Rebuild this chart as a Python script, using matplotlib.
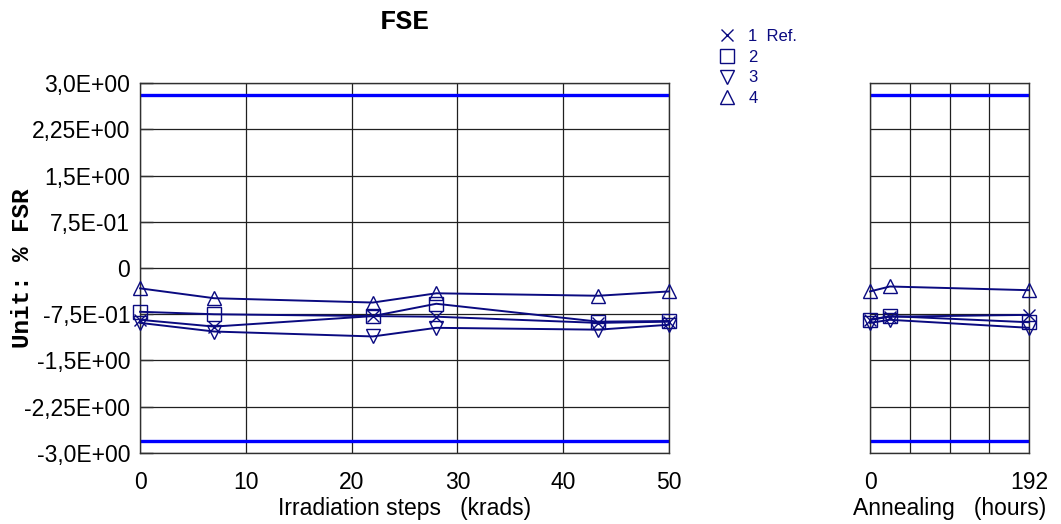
import matplotlib.pyplot as plt
from matplotlib.lines import Line2D

plt.rcParams["font.family"] = ["Liberation Sans", "DejaVu Sans"]

# irradiation steps (krads) and annealing times (hours)
dose = [0, 7, 22, 28, 43.3, 50]
hours = [0, 24, 192]

# FSE in % FSR, one list per device
irr_1 = [-0.84, -0.95, -0.78, -0.79, -0.89, -0.87]
irr_2 = [-0.71, -0.75, -0.78, -0.58, -0.87, -0.86]
irr_3 = [-0.89, -1.03, -1.11, -0.97, -1.00, -0.92]
irr_4 = [-0.33, -0.49, -0.56, -0.41, -0.45, -0.38]

ann_1 = [-0.84, -0.79, -0.76]
ann_2 = [-0.84, -0.78, -0.88]
ann_3 = [-0.89, -0.84, -0.97]
ann_4 = [-0.38, -0.30, -0.36]

limit = 2.8
labels = ["1  Ref.", "2", "3", "4"]
markers = ["x", "s", "v", "^"]

yticks = [3.0, 2.25, 1.5, 0.75, 0, -0.75, -1.5, -2.25, -3.0]
yticklabels = ["3,0E+00", "2,25E+00", "1,5E+00", "7,5E-01", "0",
               "-7,5E-01", "-1,5E+00", "-2,25E+00", "-3,0E+00"]

navy = "#0a0a80"
fig = plt.figure(figsize=(10.61, 5.24), dpi=100)
ax1 = fig.add_axes([0.1320, 0.1355, 0.4986, 0.7061])
ax2 = fig.add_axes([0.8200, 0.1355, 0.1499, 0.7061])

irr = [irr_1, irr_2, irr_3, irr_4]
ann = [ann_1, ann_2, ann_3, ann_4]

for ax, xs, series, xlim, xt in [
    (ax1, dose, irr, (0, 50), [0, 10, 20, 30, 40, 50]),
    (ax2, hours, ann, (0, 192), [0, 48, 96, 144, 192]),
]:
    for ys, m in zip(series, markers):
        ax.plot(xs, ys, color=navy, lw=1.4, marker=m, ms=10 if m != "x" else 9,
                mfc="none", mec=navy, mew=1.0, clip_on=False, zorder=3)
    ax.axhline(limit, color="#0000ff", lw=2.4, zorder=2)
    ax.axhline(-limit, color="#0000ff", lw=2.4, zorder=2)
    ax.set_xlim(*xlim)
    ax.set_ylim(-3, 3)
    ax.set_xticks(xt)
    ax.set_yticks(yticks)
    ax.grid(True, color="#202020", lw=0.9)
    ax.set_axisbelow(True)
    ax.tick_params(axis="both", direction="in", length=0, labelsize=16.5)
    ax.tick_params(axis="x", pad=13)
    for s in ax.spines.values():
        s.set_color("#303030")
        s.set_linewidth(1.0)

ax1.set_yticklabels(yticklabels)
ax1.tick_params(axis="y", length=9, width=1, color="#303030", pad=7)
ax2.set_yticklabels([])
ax2.set_xticklabels(["0", "", "", "", "192"])

ax1.set_xlabel("Irradiation steps   (krads)", fontsize=16.5, labelpad=2)
ax2.set_xlabel("Annealing   (hours)", fontsize=16.5, labelpad=2)
ax1.set_ylabel("Unit: % FSR", fontsize=17.5, fontweight="bold",
               family="Liberation Mono")
ax1.yaxis.set_label_coords(-0.200, 0.5)
fig.text(405 / 1061, 1 - 22 / 524, "FSE", fontsize=20, fontweight="bold",
         family="Liberation Mono", ha="center", va="center")

handles = [Line2D([], [], ls="none", marker=m, color=navy, mfc="none",
                  ms=10 if m != "x" else 9, mew=1.0) for m in markers]
fig.legend(handles, labels, loc="upper left", bbox_to_anchor=(0.6692, 0.961),
           frameon=False, fontsize=12, handletextpad=0.8, labelspacing=0.35,
           borderpad=0, labelcolor=navy, handlelength=1.0)

fig.savefig("out.png", dpi=100)
